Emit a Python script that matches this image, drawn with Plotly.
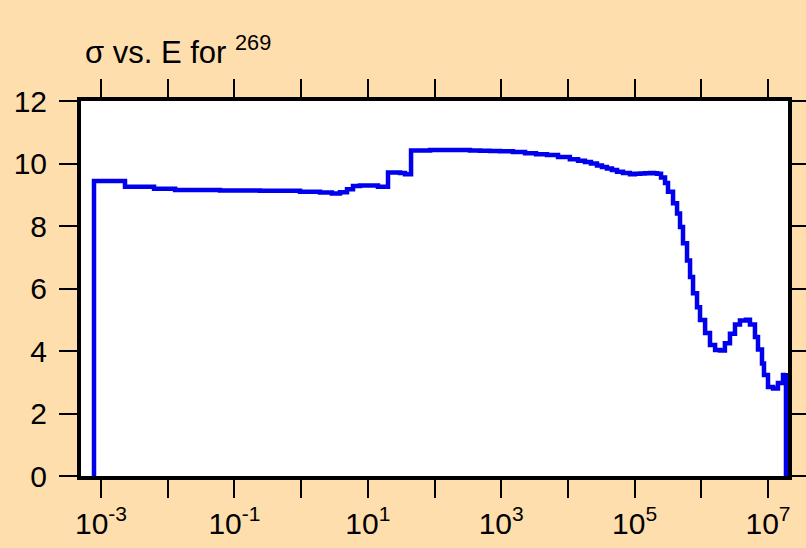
import plotly.graph_objects as go

# cross section (barns) vs neutron energy (eV)
energy = [
    7.85e-4, 7.85e-4, 2.29e-3, 6.24e-3, 0.0129, 0.0608, 0.242, 0.964, 1.92,
    2.90, 3.83, 4.88, 6.0, 7.64, 11.6, 14.2, 20.1, 30.4, 36.1, 44.5, 85.7,
    340, 481, 679, 960, 1500, 2280, 3330, 4860, 7110, 1.07e4, 1.42e4, 1.80e4,
    2.22e4, 2.73e4, 3.24e4, 3.85e4, 4.58e4, 5.45e4, 6.70e4, 8.53e4, 1.01e5,
    1.21e5, 1.43e5, 1.70e5, 1.95e5, 2.17e5, 2.49e5, 2.86e5, 3.17e5, 3.77e5,
    4.33e5, 4.80e5, 5.32e5, 6.11e5, 6.78e5, 7.52e5, 8.63e5, 9.57e5, 1.14e6,
    1.35e6, 1.61e6, 1.91e6, 2.26e6, 2.69e6, 3.20e6, 3.80e6, 4.68e6, 5.37e6,
    6.38e6, 7.08e6, 8.13e6, 8.71e6, 1.0e7, 1.19e7, 1.41e7, 1.68e7, 1.86e7,
    1.86e7,
]
sigma = [
    0, 9.44, 9.26, 9.19, 9.15, 9.14, 9.13, 9.10, 9.07,
    9.04, 9.08, 9.18, 9.28, 9.30, 9.30, 9.26, 9.71, 9.70, 9.66, 10.42, 10.43,
    10.42, 10.41, 10.40, 10.39, 10.37, 10.33, 10.30, 10.27, 10.21, 10.14, 10.09, 10.05,
    10.00, 9.94, 9.89, 9.84, 9.79, 9.74, 9.70, 9.66, 9.67,
    9.68, 9.69, 9.70, 9.69, 9.67, 9.55, 9.38, 9.10, 8.73,
    8.40, 7.97, 7.45, 6.90, 6.37, 5.85, 5.40, 4.99, 4.58,
    4.19, 4.03, 4.02, 4.25, 4.55, 4.85, 4.98, 5.00, 4.85,
    4.45, 4.05, 3.60, 3.23, 2.85, 2.80, 2.98, 3.23, 3.30,
    0,
]

x_tickvals = [1e-3, 1e-1, 10, 1e3, 1e5, 1e7]
x_ticktext = ["10<sup>-3</sup>", "10<sup>-1</sup>", "10<sup>1</sup>",
              "10<sup>3</sup>", "10<sup>5</sup>", "10<sup>7</sup>"]
x_minorvals = [1e-2, 1, 100, 1e4, 1e6]
y_tickvals = [0, 2, 4, 6, 8, 10, 12]

fig = go.Figure()
fig.add_trace(go.Scatter(
    x=energy, y=sigma, mode="lines", line_shape="hv",
    line=dict(color="#0000EE", width=4.5), showlegend=False,
))

axis_style = dict(
    showline=True, linecolor="black", linewidth=4, mirror="ticks",
    ticks="outside", ticklen=18, tickwidth=2, tickcolor="black",
    showgrid=False, zeroline=False, automargin=False,
    tickfont=dict(family="Liberation Sans, Arial", size=30, color="black"),
)

fig.update_xaxes(type="log", range=[-3.30, 7.30], tickmode="array",
                 tickvals=x_tickvals, ticktext=x_ticktext,
                 minor=dict(tickmode="array", tickvals=x_minorvals, ticks="outside",
                            ticklen=18, tickwidth=2, tickcolor="black", showgrid=False),
                 **axis_style)
fig.update_yaxes(range=[0, 12], tickmode="array", tickvals=y_tickvals,
                 ticklabelstandoff=6, **axis_style)

fig.update_layout(
    width=806, height=548,
    margin=dict(l=81, r=18, t=101, b=72),
    paper_bgcolor="#FFDEAD", plot_bgcolor="white",
    font=dict(family="Liberation Sans, Arial", color="black"),
    title=dict(text="σ vs. E for <sup>269</sup>", x=85 / 806, xanchor="left",
               xref="container", y=1 - 52 / 548, yanchor="middle", yref="container",
               font=dict(size=31, color="black")),
)

fig.write_html("out.html", config={"displayModeBar": False},
               post_script="document.body.style.margin='0';")
